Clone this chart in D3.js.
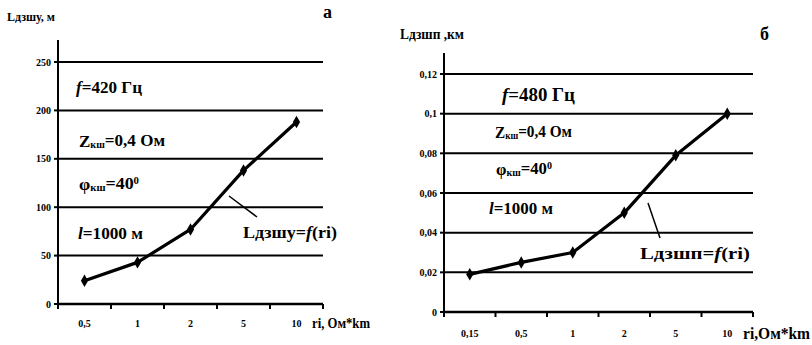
<!DOCTYPE html>
<html><head><meta charset="utf-8">
<script src="https://cdn.jsdelivr.net/npm/d3@7"></script>
<style>body{margin:0;background:#fff}svg{display:block}
svg text{font-family:"Liberation Serif","Times New Roman","DejaVu Serif",serif !important;font-weight:bold}</style>
</head><body>
<svg id="c" width="812" height="345"></svg>
<script>
const catsA = ["0,5","1","2","5","10"];
const valsA = [24, 43, 77, 138, 188];
const yTicksA = [0,50,100,150,200,250];
const catsB = ["0,15","0,5","1","2","5","10"];
const valsB = [0.019, 0.025, 0.030, 0.050, 0.079, 0.100];
const yTicksB = [0,0.02,0.04,0.06,0.08,0.1,0.12];
const fmtB = d => d===0 ? "0" : String(d).replace(".", ",");

const svg = d3.select("#c");

function panel(o){
  const g = svg.append("g");
  const x = d3.scaleBand().domain(o.cats).range([o.x0,o.x1]);
  const y = d3.scaleLinear().domain([0,o.ymax]).range([o.y0,o.y1]);
  g.selectAll("line.grid").data(o.yticks.filter(d=>d>0)).join("line")
    .attr("x1",o.x0).attr("x2",o.x1).attr("y1",d=>y(d)).attr("y2",d=>y(d))
    .attr("stroke","#000").attr("stroke-width",2);
  g.append("line").attr("x1",o.x0).attr("x2",o.x0).attr("y1",o.axTop).attr("y2",o.y0)
    .attr("stroke","#000").attr("stroke-width",2);
  g.append("line").attr("x1",o.x0).attr("x2",o.x1).attr("y1",o.y0).attr("y2",o.y0)
    .attr("stroke","#000").attr("stroke-width",2.5);
  g.selectAll("line.yt").data(o.yticks).join("line")
    .attr("x1",o.x0-4).attr("x2",o.x0).attr("y1",d=>y(d)).attr("y2",d=>y(d))
    .attr("stroke","#000").attr("stroke-width",2);
  g.selectAll("text.yl").data(o.yticks).join("text")
    .attr("x",o.x0-7).attr("y",d=>y(d)).attr("dy","0.35em").attr("text-anchor","end")
    .attr("font-size",o.tickFs).text(o.fmt);
  const bounds = o.cats.map(c=>x(c)).concat([o.x1]);
  g.selectAll("line.xt").data(bounds).join("line")
    .attr("x1",d=>d).attr("x2",d=>d).attr("y1",o.y0).attr("y2",o.y0+5)
    .attr("stroke","#000").attr("stroke-width",2);
  g.selectAll("text.xl").data(o.cats).join("text")
    .attr("x",d=>x(d)+x.bandwidth()/2).attr("y",o.xlabY).attr("dy","0.35em")
    .attr("text-anchor","middle").attr("font-size",o.tickFs).text(d=>d);
  const line = d3.line().x((d,i)=>x(o.cats[i])+x.bandwidth()/2).y(d=>y(d));
  g.append("path").datum(o.vals).attr("d",line).attr("fill","none")
    .attr("stroke","#000").attr("stroke-width",3.2).attr("stroke-linejoin","round");
  g.selectAll("path.m").data(o.vals).join("path")
    .attr("d",d3.symbol(d3.symbolDiamond,45))
    .attr("transform",(d,i)=>`translate(${x(o.cats[i])+x.bandwidth()/2},${y(d)})`)
    .attr("fill","#000");
  return {g,x,y};
}

panel({cats:catsA, vals:valsA, yticks:yTicksA, ymax:250, x0:58, x1:323, y0:304, y1:62,
  axTop:40, tickFs:10, fmt:d=>d, xlabY:323});
panel({cats:catsB, vals:valsB, yticks:yTicksB, ymax:0.12, x0:444, x1:753, y0:312, y1:74,
  axTop:53, tickFs:10, fmt:fmtB, xlabY:333});

function txt(x,y,s,fs){
  return svg.append("text").attr("x",x).attr("y",y).attr("dy","0.35em").attr("font-size",fs).text(s);
}
function rich(x,y,parts,fs,len){
  const t = svg.append("text").attr("x",x).attr("y",y).attr("dy","0.35em").attr("font-size",fs);
  parts.forEach(p=>{
    const ts = t.append("tspan").text(p.t);
    if(p.sub){ ts.attr("font-size",fs*0.6).attr("dy","0.15em"); }
    if(p.after){ ts.attr("dy","-0.15em"); }
    if(p.sup){ ts.attr("font-size",fs*0.6).attr("dy","-0.45em"); }
    if(p.it){ ts.attr("font-style","italic"); }
  });
  if(len) t.attr("textLength",len).attr("lengthAdjust","spacingAndGlyphs");
  return t;
}

txt(7,17,"Lдзшу, м",12).attr("textLength",48).attr("lengthAdjust","spacingAndGlyphs");
txt(323,12,"а",18);
rich(76,87,[{t:"f",it:true},{t:"=420 Гц"}],17,66);
rich(79,141,[{t:"Z"},{t:"кш",sub:true},{t:"=0,4 Ом",after:true}],17,86);
rich(79,184,[{t:"φ"},{t:"кш",sub:true},{t:"=40",after:true},{t:"0",sup:true}],17,60);
rich(78,233,[{t:"l",it:true},{t:"=1000 м"}],17,65);
rich(243,232,[{t:"Lдзшу="},{t:"f",it:true},{t:"(ri)"}],16,94);
svg.append("line").attr("x1",229).attr("y1",196).attr("x2",257).attr("y2",217)
  .attr("stroke","#000").attr("stroke-width",1.5);
txt(312,323,"ri, Ом*km",14).attr("textLength",58).attr("lengthAdjust","spacingAndGlyphs");

txt(400,34,"Lдзшп ,км",14).attr("textLength",64).attr("lengthAdjust","spacingAndGlyphs");
txt(760,34,"б",18);
rich(502,95,[{t:"f",it:true},{t:"=480 Гц"}],18,73);
rich(495,132,[{t:"Z"},{t:"кш",sub:true},{t:"=0,4 Ом",after:true}],16,77);
rich(496,169,[{t:"φ"},{t:"кш",sub:true},{t:"=40",after:true},{t:"0",sup:true}],16,56);
rich(489,208,[{t:"l",it:true},{t:"=1000 м"}],16,64);
rich(640,253,[{t:"Lдзшп="},{t:"f",it:true},{t:"(ri)"}],17,110);
svg.append("line").attr("x1",648).attr("y1",203).attr("x2",660).attr("y2",238)
  .attr("stroke","#000").attr("stroke-width",1.5);
txt(743,333,"ri,Ом*km",16).attr("textLength",67).attr("lengthAdjust","spacingAndGlyphs");
</script>
</body></html>
